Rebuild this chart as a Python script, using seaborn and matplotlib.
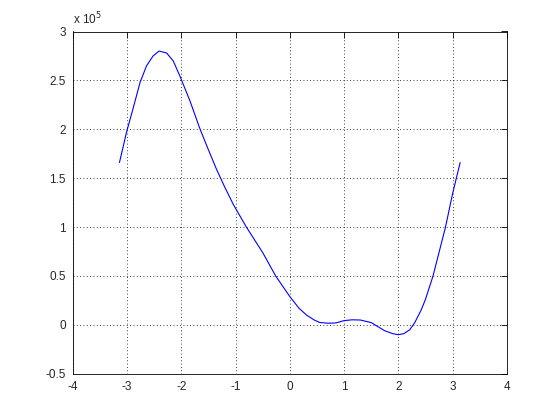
import numpy as np
import pandas as pd
import seaborn as sns
from matplotlib import pyplot as plt
from matplotlib.ticker import FuncFormatter

# values (y in units of 1e5)
x_vals = [-3.14, -3.01, -2.89, -2.76, -2.64, -2.52, -2.41, -2.27, -2.15, -2.03,
          -1.84, -1.66, -1.5, -1.35, -1.2, -1.04, -0.8, -0.5, -0.26, 0.0,
          0.17, 0.31, 0.45, 0.55, 0.7, 0.85, 1.0, 1.15, 1.3, 1.5,
          1.75, 1.9, 2.0, 2.1, 2.21, 2.3, 2.42, 2.5, 2.64, 2.87,
          3.0, 3.07, 3.14]
y_vals = [1.66, 1.97, 2.21, 2.48, 2.65, 2.75, 2.80, 2.78, 2.70, 2.55,
          2.29, 2.01, 1.79, 1.59, 1.41, 1.23, 1.00, 0.74, 0.50, 0.29,
          0.17, 0.10, 0.05, 0.025, 0.017, 0.02, 0.044, 0.052, 0.05, 0.024,
          -0.06, -0.09, -0.10, -0.09, -0.05, 0.02, 0.15, 0.26, 0.50, 1.00,
          1.34, 1.50, 1.66]
scale = 1e5

xticks = [-4, -3, -2, -1, 0, 1, 2, 3, 4]
yticks = [-0.5, 0, 0.5, 1, 1.5, 2, 2.5, 3]

sns.set_style("white")
plt.rcParams['font.family'] = ['Liberation Sans', 'DejaVu Sans']
plt.rcParams['axes.unicode_minus'] = False

df = pd.DataFrame({"x": x_vals, "y": np.array(y_vals) * scale})

fig = plt.figure(figsize=(5.6, 4.2), dpi=100)
ax = fig.add_axes([0.13, 0.11, 0.775, 0.815])

sns.lineplot(data=df, x="x", y="y", sort=False, estimator=None,
             color=(0, 0, 1), linewidth=0.8, ax=ax)

ax.set_xlim(-4, 4)
ax.set_ylim(-0.5 * scale, 3 * scale)
ax.set_xticks(xticks)
ax.set_yticks([t * scale for t in yticks])
ax.xaxis.set_major_formatter(FuncFormatter(lambda v, p: f"{v:g}"))
ax.yaxis.set_major_formatter(FuncFormatter(lambda v, p: f"{v / scale:g}"))
ax.set_xlabel("")
ax.set_ylabel("")

ax.grid(True, color="black", linestyle=(0, (1, 3)), linewidth=0.6)
ax.tick_params(direction="in", length=4, width=0.6, labelsize=8.5, color="black",
               top=True, right=True, pad=5)
for sp in ax.spines.values():
    sp.set_visible(True)
    sp.set_color("black")
    sp.set_linewidth(0.6)

ax.text(0.0, 1.012, r"x 10$^5$", transform=ax.transAxes, ha="left", va="bottom",
        fontsize=8.5)

fig.savefig("out.png", dpi=100, facecolor="white")
